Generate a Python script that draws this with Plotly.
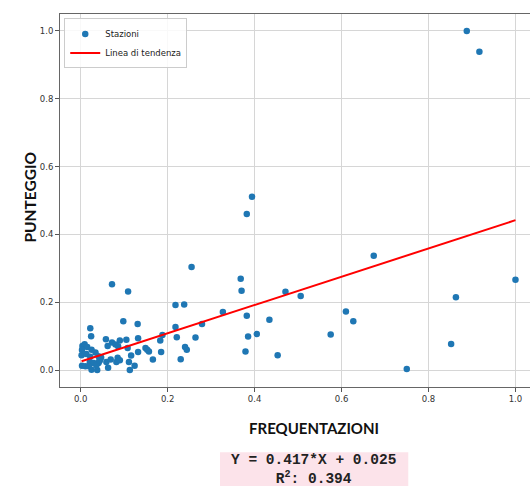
import plotly.graph_objects as go

# Stazioni: frequentazioni (normalizzate) e punteggio (normalizzato)
frequentazioni = [
    0.888, 0.917, 1.000, 0.863, 0.852, 0.750, 0.674, 0.610, 0.627, 0.575,
    0.506, 0.471, 0.453, 0.434,
    0.394, 0.382, 0.255, 0.368, 0.370, 0.072, 0.109, 0.218, 0.238, 0.327,
    0.382, 0.098, 0.131, 0.279, 0.218, 0.022, 0.405, 0.385, 0.264, 0.221,
    0.024, 0.188, 0.132, 0.058, 0.183, 0.072, 0.090, 0.105, 0.080, 0.062,
    0.086, 0.108, 0.149, 0.153, 0.157, 0.240, 0.244, 0.379, 0.185, 0.132,
    0.116, 0.166, 0.230, 0.111, 0.124, 0.113, 0.063, 0.059, 0.069, 0.085,
    0.082, 0.090, 0.043, 0.047,
    0.004, 0.009, 0.015, 0.003, 0.025, 0.034, 0.002, 0.013, 0.022, 0.041,
    0.021, 0.030, 0.041, 0.003, 0.011, 0.019, 0.025, 0.038, 0.036, 0.044,
]
punteggio = [
    1.000, 0.939, 0.266, 0.215, 0.077, 0.003, 0.337, 0.173, 0.144, 0.105,
    0.218, 0.231, 0.044, 0.148,
    0.511, 0.460, 0.304, 0.269, 0.234, 0.253, 0.232, 0.192, 0.193, 0.171,
    0.160, 0.144, 0.136, 0.136, 0.127, 0.123, 0.106, 0.099, 0.096, 0.097,
    0.100, 0.103, 0.094, 0.091, 0.087, 0.081, 0.087, 0.089, 0.075, 0.071,
    0.070, 0.065, 0.065, 0.060, 0.055, 0.068, 0.060, 0.055, 0.053, 0.053,
    0.043, 0.031, 0.032, 0.024, 0.013, 0.000, 0.007, 0.024, 0.031, 0.036,
    0.024, 0.029, 0.027, 0.037,
    0.071, 0.076, 0.068, 0.059, 0.060, 0.052, 0.044, 0.047, 0.039, 0.041,
    0.024, 0.021, 0.021, 0.013, 0.011, 0.011, 0.001, 0.000, 0.014, 0.029,
]

# Retta di regressione
pendenza = 0.417
intercetta = 0.025
r_quadro = 0.394

tick_vals = [0.0, 0.2, 0.4, 0.6, 0.8, 1.0]
tick_text = ["0.0", "0.2", "0.4", "0.6", "0.8", "1.0"]

x_lin = [min(frequentazioni), max(frequentazioni)]
y_lin = [pendenza * x + intercetta for x in x_lin]

fig = go.Figure()
fig.add_trace(go.Scatter(
    x=frequentazioni, y=punteggio, mode="markers", name="Stazioni",
    marker=dict(color="#1f77b4", size=6.5, line=dict(width=0)),
))
fig.add_trace(go.Scatter(
    x=x_lin, y=y_lin, mode="lines", name="Linea di tendenza",
    line=dict(color="red", width=2),
))

axis_common = dict(
    showgrid=True, gridcolor="#d6d6d6", gridwidth=1,
    showline=True, linecolor="#666", linewidth=1, mirror=True,
    ticks="outside", ticklen=4, tickcolor="#555", tickwidth=1,
    zeroline=False,
    tickvals=tick_vals, ticktext=tick_text,
    tickfont=dict(family="DejaVu Sans", size=8.5, color="#333"),
)

fig.update_layout(
    width=530, height=486,
    margin=dict(l=60, r=0, t=14, b=99),
    paper_bgcolor="white", plot_bgcolor="white",
    showlegend=True,
    legend=dict(
        x=0.009, y=0.988, xanchor="left", yanchor="top",
        bgcolor="rgba(255,255,255,0.85)", bordercolor="#cccccc", borderwidth=1,
        font=dict(family="DejaVu Sans", size=8.5, color="#222"),
        itemwidth=30, tracegroupgap=0,
    ),
    xaxis=dict(range=[-0.0476, 1.0334], **axis_common),
    yaxis=dict(range=[-0.05, 1.05], **axis_common),
)

# Titoli degli assi
fig.add_annotation(
    text="<b>FREQUENTAZIONI</b>", xref="paper", yref="paper",
    x=0.540, y=-0.111, xanchor="center", yanchor="middle", showarrow=False,
    font=dict(family="Lato", size=15, color="#111"),
)
fig.add_annotation(
    text="<b>PUNTEGGIO</b>", xref="paper", yref="paper",
    x=-0.0638, y=0.508, xanchor="center", yanchor="middle", showarrow=False,
    textangle=-90, font=dict(family="Lato", size=15.5, color="#111"),
)

# Riquadro con equazione e R²
fig.add_shape(
    type="rect", xref="paper", yref="paper",
    x0=0.3404, x1=0.741, y0=-0.32, y1=-0.1746,
    fillcolor="#fce3ea", line=dict(width=0), layer="above",
)
fig.add_annotation(
    text=(f"<b>Y = {pendenza:.3f}*X + {intercetta:.3f}</b><br>"
          f"<b>R<sup>2</sup>: {r_quadro:.3f}</b>"),
    xref="paper", yref="paper", x=0.540, y=-0.2215,
    xanchor="center", yanchor="middle", align="center", showarrow=False,
    font=dict(family="Liberation Mono", size=14.5, color="#222"),
)

fig.write_html("out.html")
